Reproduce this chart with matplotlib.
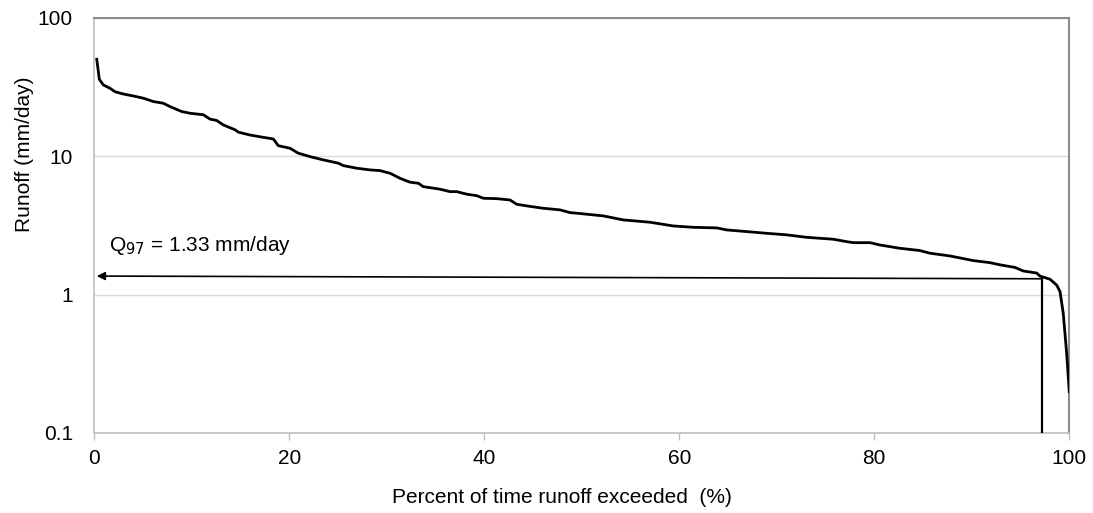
import matplotlib
matplotlib.use("Agg")
import matplotlib.pyplot as plt
from matplotlib.ticker import FixedLocator, FixedFormatter

plt.rcParams['font.family'] = ['Liberation Sans', 'DejaVu Sans']

# Flow duration curve: percent of time exceeded (%) vs runoff (mm/day)
pct = [0.25, 0.51, 0.92, 1.61, 2.12, 2.97, 4.0, 5.03, 6.05, 7.08, 7.76, 8.96, 9.82,
       11.18, 11.87, 12.55, 13.23, 14.43, 14.77, 15.97, 16.99, 18.36, 18.87, 20.07,
       20.92, 22.12, 23.49, 25.03, 25.54, 26.91, 28.28, 29.3, 30.33, 31.35, 32.38,
       33.23, 33.74, 35.45, 36.48, 37.17, 38.19, 39.22, 39.9, 41.27, 42.64, 43.32,
       44.35, 46.05, 47.76, 48.79, 49.8, 52.2, 54.26, 56.99, 59.38, 61.44, 63.84,
       64.86, 66.91, 68.96, 71.01, 73.07, 75.79, 77.17, 77.85, 79.56, 80.58, 82.6,
       84.66, 85.7, 87.76, 90.15, 91.86, 92.89, 94.43, 95.28, 96.66, 96.99, 98.02,
       98.71, 99.05, 99.38, 99.73, 100.0]
runoff = [50.1, 35.9, 32.7, 30.9, 29.2, 28.1, 27.2, 26.2, 24.8, 24.1, 22.8, 21.0, 20.4,
          19.9, 18.5, 18.1, 16.8, 15.5, 14.9, 14.2, 13.8, 13.3, 11.9, 11.4,
          10.5, 9.92, 9.39, 8.89, 8.54, 8.18, 7.95, 7.86, 7.52, 6.92, 6.48,
          6.37, 6.02, 5.77, 5.54, 5.54, 5.31, 5.18, 4.96, 4.93, 4.82, 4.49,
          4.37, 4.20, 4.09, 3.91, 3.85, 3.70, 3.46, 3.33, 3.13, 3.06, 3.03,
          2.93, 2.85, 2.77, 2.70, 2.59, 2.51, 2.41, 2.37, 2.37, 2.28, 2.16,
          2.08, 1.99, 1.90, 1.76, 1.70, 1.64, 1.57, 1.48, 1.43, 1.36, 1.29,
          1.17, 1.05, 0.733, 0.377, 0.199]

q_pct = 97.2
q_val_right = 1.30
q_val_left = 1.36
arrow_tip_pct = 0.25
q_label = "Q$_{97}$ = 1.33 mm/day"

x_ticks = [0, 20, 40, 60, 80, 100]
y_ticks = [0.1, 1, 10, 100]
y_tick_labels = ["0.1", "1", "10", "100"]

fig = plt.figure(figsize=(10.93, 5.13), dpi=100)
ax = fig.add_axes([0.0863, 0.156, 0.9783 - 0.0863, 0.9655 - 0.156])

ax.set_yscale('log')
ax.set_xlim(0, 100)
ax.set_ylim(0.1, 100)

ax.yaxis.set_major_locator(FixedLocator(y_ticks))
ax.yaxis.set_major_formatter(FixedFormatter(y_tick_labels))
ax.yaxis.set_minor_locator(FixedLocator([]))
ax.set_xticks(x_ticks)

ax.grid(True, axis='y', which='major', color='#d9d9d9', linewidth=1.0)
ax.set_axisbelow(True)

ax.plot(pct, runoff, color='black', linewidth=2.0, solid_joinstyle='round', zorder=3)

# Q97 annotation lines
ax.plot([q_pct, q_pct], [0.1, q_val_right], color='black', linewidth=1.6, zorder=3)
ax.annotate('', xy=(arrow_tip_pct, q_val_left), xytext=(q_pct, q_val_right),
            arrowprops=dict(arrowstyle='-|>', color='black', lw=1.2,
                            mutation_scale=12, shrinkA=0, shrinkB=0), zorder=4)
ax.text(1.5, 1.86, q_label, fontsize=15, color='black', ha='left', va='bottom')

for s in ['left', 'bottom']:
    ax.spines[s].set_color('#bfbfbf')
    ax.spines[s].set_linewidth(1.2)
for s in ['top', 'right']:
    ax.spines[s].set_color('#8c8c8c')
    ax.spines[s].set_linewidth(1.5)

ax.tick_params(axis='x', direction='out', length=5, width=1.0, color='#bfbfbf',
               labelsize=15, pad=6.5, labelcolor='black')
ax.tick_params(axis='y', length=0, labelsize=15, pad=15.5, labelcolor='black')

ax.set_xlabel("Percent of time runoff exceeded  (%)", fontsize=15)
ax.xaxis.set_label_coords(0.48, -0.132)
ax.set_ylabel("Runoff (mm/day)", fontsize=15)
ax.yaxis.set_label_coords(-0.062, 0.67)

fig.savefig("out.png", dpi=100, facecolor='white')
